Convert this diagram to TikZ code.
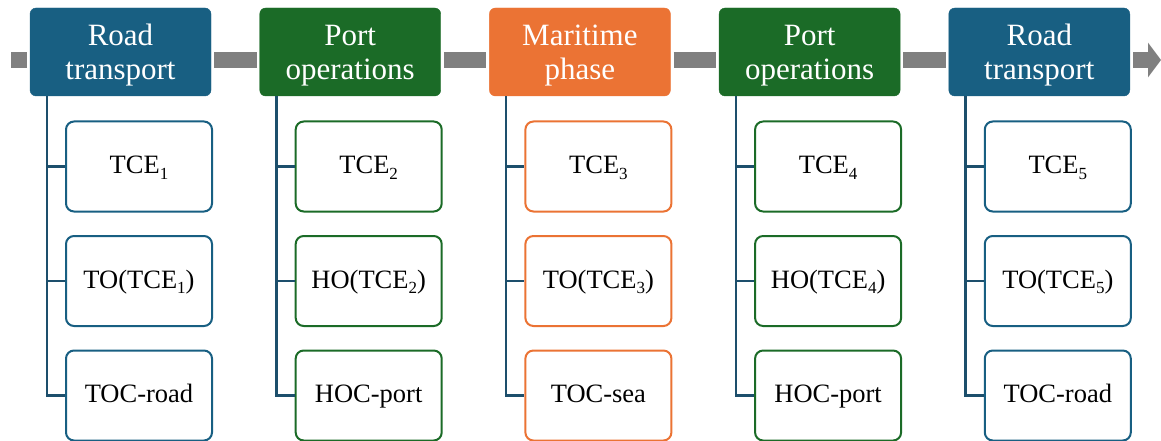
\documentclass[tikz,border=0pt]{standalone}
\usepackage{fontspec}
\setmainfont{Liberation Serif}
\usetikzlibrary{arrows.meta}
\definecolor{cblue}{HTML}{185F82}
\definecolor{cgreen}{HTML}{1B6B27}
\definecolor{corange}{HTML}{EB7334}
\definecolor{cline}{HTML}{1D4F6C}
\definecolor{cgrey}{HTML}{808080}
\newcommand{\sbs}[1]{\raisebox{-0.22em}{\fontsize{17}{17}\selectfont #1}}
\tikzset{
  hdr/.style={rounded corners=6pt, minimum width=181pt, minimum height=88pt, inner sep=0pt,
    text=white, align=center, font=\fontsize{31}{34}\selectfont, fill=#1, draw=#1, text depth=0pt},
  child/.style={rounded corners=8pt, minimum width=146pt, minimum height=90pt, inner sep=0pt,
    draw=#1, line width=2pt, fill=white, font=\fontsize{26.5}{30}\selectfont,
    text height=17pt, text depth=3pt},
  vline/.style={draw=cline, line width=2.5pt},
  bar/.style={draw=cgrey, line width=16pt},
}
\begin{document}
\begin{tikzpicture}[x=1pt,y=-1pt]
\useasboundingbox (0,0) rectangle (1161,441);
\foreach \i/\off/\col/\title/\ta/\tb/\tc in {
  1/0/cblue/{Road\\transport}/{TCE\sbs{1}}/{TO(TCE\sbs{1})}/{TOC-road},
  2/229.7/cgreen/{Port\\operations}/{TCE\sbs{2}}/{HO(TCE\sbs{2})}/{HOC-port},
  3/459.4/corange/{Maritime\\phase}/{TCE\sbs{3}}/{TO(TCE\sbs{3})}/{TOC-sea},
  4/689.1/cgreen/{Port\\operations}/{TCE\sbs{4}}/{HO(TCE\sbs{4})}/{HOC-port},
  5/918.8/cblue/{Road\\transport}/{TCE\sbs{5}}/{TO(TCE\sbs{5})}/{TOC-road}}{
  \node[hdr=\col] (h\i) at (120.5+\off,52) {\title};
  \node[child=\col] (c\i a) at (139+\off,166.5) {\ta};
  \node[child=\col] (c\i b) at (139+\off,281) {\tb};
  \node[child=\col] (c\i c) at (139+\off,395.5) {\tc};
  \coordinate (v\i) at ([xshift=17pt]h\i.south west);
  \draw[vline] (v\i) |- (c\i c.west);
  \draw[vline] (v\i) |- (c\i a.west);
  \draw[vline] (v\i) |- (c\i b.west);
}
\coordinate (start) at (11,60);
\coordinate (end) at (1161,60);
\draw[bar] (start) -- ([xshift=-3pt]start -| h1.west);
\draw[bar] ([xshift=3pt]start -| h1.east) -- ([xshift=-3pt]start -| h2.west);
\draw[bar] ([xshift=3pt]start -| h2.east) -- ([xshift=-3pt]start -| h3.west);
\draw[bar] ([xshift=3pt]start -| h3.east) -- ([xshift=-3pt]start -| h4.west);
\draw[bar] ([xshift=3pt]start -| h4.east) -- ([xshift=-3pt]start -| h5.west);
\draw[bar, -{Triangle[length=13pt,width=34pt]}] ([xshift=3pt]start -| h5.east) -- (end);
\end{tikzpicture}
\end{document}
